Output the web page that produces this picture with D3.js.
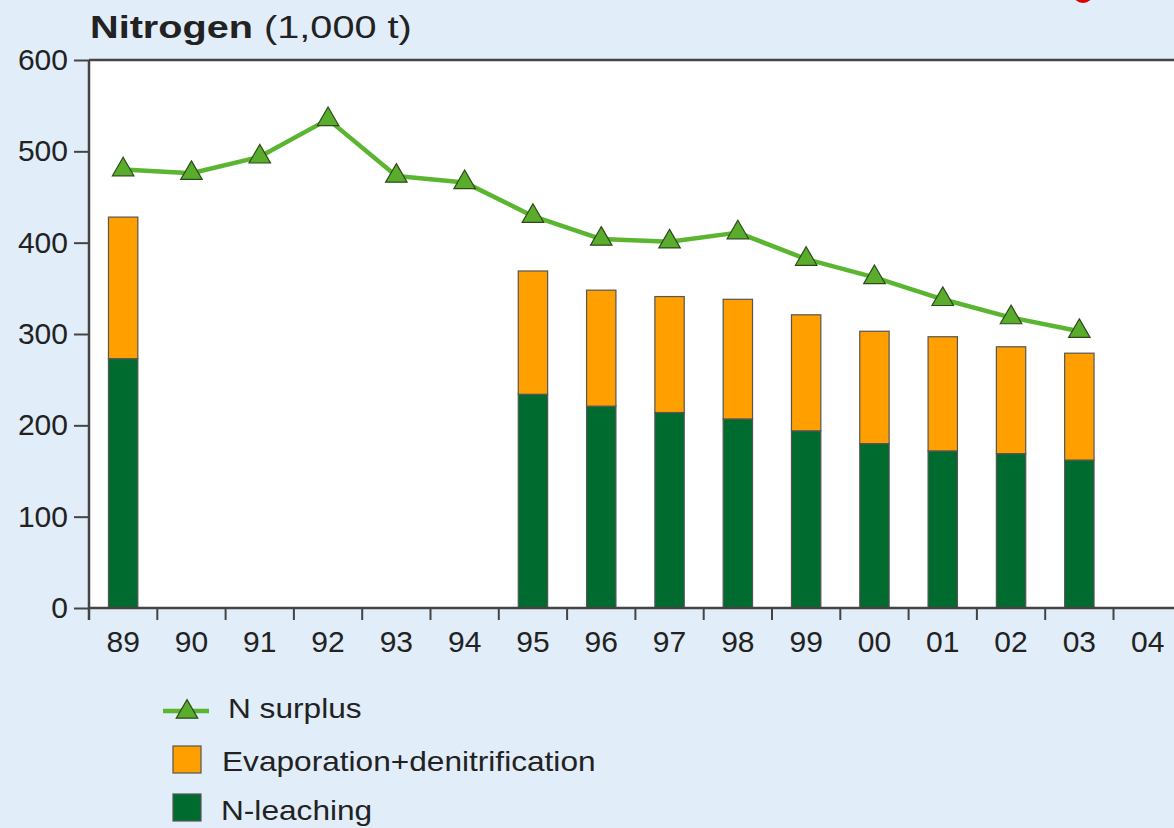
<!DOCTYPE html>
<html>
<head>
<meta charset="utf-8">
<script src="https://cdn.jsdelivr.net/npm/d3@7"></script>
<style>
  body { margin: 0; background: #e1edf9; overflow: hidden; }
  text { font-family: "Liberation Sans", Arial, sans-serif; fill: #222; }
</style>
</head>
<body>
<script>
var width = 1174,
    height = 828;

// ---- data (1,000 t) ----
var years = ["89","90","91","92","93","94","95","96","97","98","99","00","01","02","03","04"];
var surplus = [480, 476, 494, 535, 473, 466, 429, 404, 401, 411, 382, 362, 338, 318, 303, null];
var leaching = [273, null, null, null, null, null, 234, 221, 214, 207, 194, 180, 172, 169, 162, null];
var evaporation = [155, null, null, null, null, null, 135, 127, 127, 131, 127, 123, 125, 117, 117, null];
var yTicks = [0, 100, 200, 300, 400, 500, 600];

var colLeach = "#006b2e",
    colEvap = "#ff9f00",
    colLine = "#5bb531",
    colTri = "#5aad2c";

var margin = {left: 89, top: 60, bottom: 608};
var bandW = 68.3;

var svg = d3.select("body").append("svg")
    .attr("width", width)
    .attr("height", height);

var x = d3.scaleBand()
    .domain(years)
    .range([margin.left, margin.left + bandW * years.length])
    .paddingInner(0.57)
    .paddingOuter(0.285);

var y = d3.scaleLinear()
    .domain([0, 600])
    .range([margin.bottom, margin.top]);

// text drawn a bit wider than the installed fonts
function wideText(g, tx, ty, sx, size) {
  return g.append("text")
      .attr("transform", "translate(" + [tx, ty] + ") scale(" + sx + ",1)")
      .style("font-size", size + "px");
}

// plot background
svg.append("rect")
    .attr("x", margin.left).attr("y", margin.top)
    .attr("width", width - margin.left).attr("height", margin.bottom - margin.top)
    .attr("fill", "#fff");

// red thing peeking in at the top right
svg.append("ellipse")
    .attr("cx", 1083).attr("cy", -6).attr("rx", 10).attr("ry", 9)
    .attr("fill", "#e00000");

// title
var title = wideText(svg, 90, 38, 1.24, 32);
title.append("tspan").attr("font-weight", "bold").text("Nitrogen");
title.append("tspan").text(" (1,000 t)");

/* ============================ BARS ============================ */
var rows = years.map(function(yr, i) {
  return {year: yr, leaching: leaching[i], evaporation: evaporation[i]};
}).filter(function(d) { return d.leaching != null; });

var stack = d3.stack().keys(["leaching", "evaporation"]);
var layers = stack(rows);
var fills = {leaching: colLeach, evaporation: colEvap};

svg.selectAll(".layer")
    .data(layers)
  .enter().append("g")
    .attr("class", "layer")
    .attr("fill", function(d) { return fills[d.key]; })
  .selectAll("rect")
    .data(function(d) { return d; })
  .enter().append("rect")
    .attr("x", function(d) { return x(d.data.year); })
    .attr("width", x.bandwidth())
    .attr("y", function(d) { return y(d[1]); })
    .attr("height", function(d) { return y(d[0]) - y(d[1]); })
    .attr("stroke", "#555")
    .attr("stroke-width", 1.2);

/* ============================ AXES ============================ */
var yAxis = d3.axisLeft(y)
    .tickValues(yTicks)
    .tickSize(15)
    .tickPadding(6);

var gy = svg.append("g")
    .attr("transform", "translate(" + margin.left + ",0)")
    .call(yAxis);
gy.select(".domain").remove();
gy.selectAll(".tick line").attr("stroke", "#444").attr("stroke-width", 2);
gy.selectAll(".tick text")
    .style("font-size", "30px")
    .style("font-family", "'Liberation Sans', Arial, sans-serif")
    .attr("fill", "#333");

// frame lines: left, top, bottom
svg.append("line")
    .attr("x1", margin.left).attr("x2", margin.left)
    .attr("y1", margin.top).attr("y2", margin.bottom + 12)
    .attr("stroke", "#444").attr("stroke-width", 2.5);
svg.append("line")
    .attr("x1", margin.left).attr("x2", width)
    .attr("y1", margin.top).attr("y2", margin.top)
    .attr("stroke", "#444").attr("stroke-width", 2.5);
svg.append("line")
    .attr("x1", margin.left).attr("x2", width)
    .attr("y1", margin.bottom).attr("y2", margin.bottom)
    .attr("stroke", "#444").attr("stroke-width", 2.5);

// x ticks sit between categories
var tickPos = years.map(function(yr) { return x(yr) - x.step() * x.paddingInner() / 2; });
tickPos.push(tickPos[tickPos.length - 1] + x.step());
svg.selectAll(".xtick")
    .data(tickPos.slice(1))
  .enter().append("line")
    .attr("class", "xtick")
    .attr("x1", function(d) { return d; }).attr("x2", function(d) { return d; })
    .attr("y1", margin.bottom).attr("y2", margin.bottom + 12)
    .attr("stroke", "#444").attr("stroke-width", 2);

svg.selectAll(".xlabel")
    .data(years)
  .enter().append("text")
    .attr("class", "xlabel")
    .attr("x", function(d) { return x(d) + x.bandwidth() / 2; })
    .attr("y", 652)
    .attr("text-anchor", "middle")
    .style("font-size", "30px")
    .attr("fill", "#333")
    .text(function(d) { return d; });

/* ============================ LINE ============================ */
var pts = years.map(function(yr, i) { return {year: yr, v: surplus[i]}; })
    .filter(function(d) { return d.v != null; });

var line = d3.line()
    .x(function(d) { return x(d.year) + x.bandwidth() / 2; })
    .y(function(d) { return y(d.v); });

svg.append("path")
    .datum(pts)
    .attr("d", line)
    .attr("fill", "none")
    .attr("stroke", colLine)
    .attr("stroke-width", 4.5)
    .attr("stroke-linejoin", "round");

var tri = d3.symbol().type(d3.symbolTriangle).size(200);

svg.selectAll(".tri")
    .data(pts)
  .enter().append("path")
    .attr("class", "tri")
    .attr("d", tri)
    .attr("transform", function(d) {
      return "translate(" + [x(d.year) + x.bandwidth() / 2, y(d.v)] + ")"; })
    .attr("fill", colTri)
    .attr("stroke", "#2d4a1a")
    .attr("stroke-width", 1.2);

/* ============================ LEGEND ============================ */
var lg = svg.append("g");
lg.append("line")
    .attr("x1", 163).attr("x2", 209).attr("y1", 711).attr("y2", 711)
    .attr("stroke", colLine).attr("stroke-width", 4.5);
lg.append("path")
    .attr("d", tri)
    .attr("transform", "translate(187,712)")
    .attr("fill", colTri).attr("stroke", "#2d4a1a").attr("stroke-width", 1.2);
wideText(lg, 228, 718, 1.13, 28).text("N surplus");

lg.append("rect")
    .attr("x", 173).attr("y", 746).attr("width", 28).attr("height", 27)
    .attr("fill", colEvap).attr("stroke", "#555").attr("stroke-width", 1.2);
wideText(lg, 222, 771, 1.13, 28).text("Evaporation+denitrification");

lg.append("rect")
    .attr("x", 173).attr("y", 794).attr("width", 28).attr("height", 27)
    .attr("fill", colLeach).attr("stroke", "#555").attr("stroke-width", 1.2);
wideText(lg, 221, 820, 1.13, 28).text("N-leaching");
</script>
</body>
</html>
